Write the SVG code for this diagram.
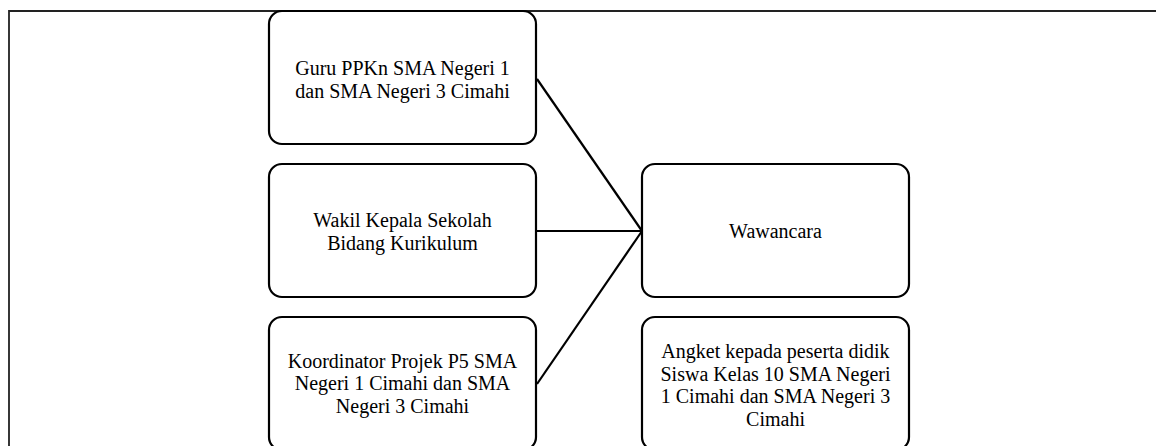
<svg xmlns="http://www.w3.org/2000/svg" width="1156" height="446" viewBox="0 0 1156 446">
<style>
.box{fill:#fff;stroke:#000;stroke-width:2.2}
.t{font-family:"Liberation Serif","Times New Roman",serif;font-size:20px;fill:#000;text-anchor:middle}
.c{stroke:#000;stroke-width:2.2;fill:none}
.frame{stroke:#222;stroke-width:1.8;fill:none}
</style>
<rect width="1156" height="446" fill="#fff"/>
<path class="frame" d="M9,446 V11 H1156"/>
<g id="connectors">
<line class="c" x1="537" y1="79" x2="642" y2="231"/>
<line class="c" x1="537" y1="231" x2="642" y2="231"/>
<line class="c" x1="537" y1="384" x2="642" y2="231"/>
</g>
<g id="guru">
<rect class="box" x="269" y="11" width="267" height="133" rx="13"/>
<text class="t" x="402.5" y="75">Guru PPKn SMA Negeri 1</text>
<text class="t" x="402.5" y="97.5">dan SMA Negeri 3 Cimahi</text>
</g>
<g id="wakil">
<rect class="box" x="269" y="164" width="267" height="133" rx="13"/>
<text class="t" x="402.5" y="227">Wakil Kepala Sekolah</text>
<text class="t" x="402.5" y="249.5">Bidang Kurikulum</text>
</g>
<g id="koordinator">
<rect class="box" x="269" y="317" width="267" height="133" rx="13"/>
<text class="t" x="402.5" y="367.5">Koordinator Projek P5 SMA</text>
<text class="t" x="402.5" y="390">Negeri 1 Cimahi dan SMA</text>
<text class="t" x="402.5" y="412.5">Negeri 3 Cimahi</text>
</g>
<g id="wawancara">
<rect class="box" x="642" y="164" width="267" height="133" rx="13"/>
<text class="t" x="775.5" y="238">Wawancara</text>
</g>
<g id="angket">
<rect class="box" x="642" y="317" width="267" height="133" rx="13"/>
<text class="t" x="775.5" y="358">Angket kepada peserta didik</text>
<text class="t" x="775.5" y="380.5">Siswa Kelas 10 SMA Negeri</text>
<text class="t" x="775.5" y="403">1 Cimahi dan SMA Negeri 3</text>
<text class="t" x="775.5" y="425.5">Cimahi</text>
</g>
</svg>
